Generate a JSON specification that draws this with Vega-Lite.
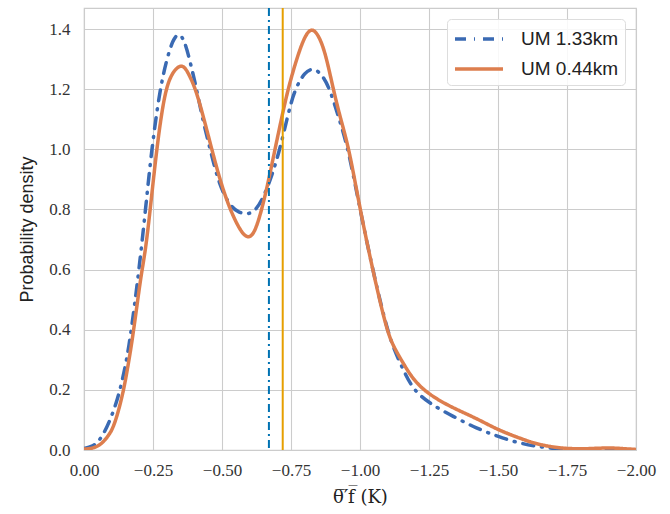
{
  "$schema": "https://vega.github.io/schema/vega-lite/v6.json",
  "width": 552,
  "height": 442,
  "autosize": {"type": "none"},
  "padding": {"left": 84, "top": 8, "right": 34, "bottom": 64},
  "background": "white",
  "config": {
    "view": {"stroke": "#cccccc", "strokeWidth": 1.2},
    "axis": {
      "grid": true, "gridColor": "#cccccc", "gridWidth": 1.1,
      "domain": false, "ticks": false, "labelFlush": false,
      "labelFont": "Liberation Serif", "labelFontSize": 17, "labelColor": "#333333",
      "titleFont": "Liberation Sans", "titleFontSize": 18, "titleFontWeight": "normal", "titleColor": "#222222"
    },
    "legend": {
      "labelFont": "Liberation Sans", "labelFontSize": 19, "labelColor": "#222222"
    }
  },
  "datasets": {
    "curves": [
      {"model": "UM 1.33km", "x": 0.0, "y": 0.005},
      {"model": "UM 1.33km", "x": -0.03, "y": 0.012},
      {"model": "UM 1.33km", "x": -0.05, "y": 0.025},
      {"model": "UM 1.33km", "x": -0.072, "y": 0.055},
      {"model": "UM 1.33km", "x": -0.095, "y": 0.1},
      {"model": "UM 1.33km", "x": -0.121, "y": 0.166},
      {"model": "UM 1.33km", "x": -0.145, "y": 0.255},
      {"model": "UM 1.33km", "x": -0.163, "y": 0.344},
      {"model": "UM 1.33km", "x": -0.181, "y": 0.466},
      {"model": "UM 1.33km", "x": -0.193, "y": 0.554},
      {"model": "UM 1.33km", "x": -0.205, "y": 0.648},
      {"model": "UM 1.33km", "x": -0.223, "y": 0.8},
      {"model": "UM 1.33km", "x": -0.245, "y": 1.0},
      {"model": "UM 1.33km", "x": -0.275, "y": 1.2},
      {"model": "UM 1.33km", "x": -0.3, "y": 1.3},
      {"model": "UM 1.33km", "x": -0.322, "y": 1.365},
      {"model": "UM 1.33km", "x": -0.344, "y": 1.39},
      {"model": "UM 1.33km", "x": -0.365, "y": 1.36},
      {"model": "UM 1.33km", "x": -0.385, "y": 1.29},
      {"model": "UM 1.33km", "x": -0.408, "y": 1.2},
      {"model": "UM 1.33km", "x": -0.43, "y": 1.1},
      {"model": "UM 1.33km", "x": -0.457, "y": 1.0},
      {"model": "UM 1.33km", "x": -0.49, "y": 0.88},
      {"model": "UM 1.33km", "x": -0.53, "y": 0.81},
      {"model": "UM 1.33km", "x": -0.56, "y": 0.79},
      {"model": "UM 1.33km", "x": -0.595, "y": 0.782},
      {"model": "UM 1.33km", "x": -0.625, "y": 0.8},
      {"model": "UM 1.33km", "x": -0.65, "y": 0.84},
      {"model": "UM 1.33km", "x": -0.68, "y": 0.91},
      {"model": "UM 1.33km", "x": -0.71, "y": 1.0},
      {"model": "UM 1.33km", "x": -0.74, "y": 1.12},
      {"model": "UM 1.33km", "x": -0.764, "y": 1.2},
      {"model": "UM 1.33km", "x": -0.8, "y": 1.258},
      {"model": "UM 1.33km", "x": -0.834, "y": 1.272},
      {"model": "UM 1.33km", "x": -0.865, "y": 1.245},
      {"model": "UM 1.33km", "x": -0.891, "y": 1.2},
      {"model": "UM 1.33km", "x": -0.925, "y": 1.1},
      {"model": "UM 1.33km", "x": -0.958, "y": 1.0},
      {"model": "UM 1.33km", "x": -1.0, "y": 0.8},
      {"model": "UM 1.33km", "x": -1.046, "y": 0.6},
      {"model": "UM 1.33km", "x": -1.095, "y": 0.41},
      {"model": "UM 1.33km", "x": -1.125, "y": 0.33},
      {"model": "UM 1.33km", "x": -1.157, "y": 0.266},
      {"model": "UM 1.33km", "x": -1.193, "y": 0.2},
      {"model": "UM 1.33km", "x": -1.251, "y": 0.155},
      {"model": "UM 1.33km", "x": -1.338, "y": 0.111},
      {"model": "UM 1.33km", "x": -1.423, "y": 0.072},
      {"model": "UM 1.33km", "x": -1.501, "y": 0.044},
      {"model": "UM 1.33km", "x": -1.58, "y": 0.022},
      {"model": "UM 1.33km", "x": -1.65, "y": 0.01},
      {"model": "UM 1.33km", "x": -1.72, "y": 0.004},
      {"model": "UM 1.33km", "x": -1.8, "y": 0.002},
      {"model": "UM 1.33km", "x": -2.0, "y": 0.001},
      {"model": "UM 0.44km", "x": 0.0, "y": 0.003},
      {"model": "UM 0.44km", "x": -0.024, "y": 0.004},
      {"model": "UM 0.44km", "x": -0.05, "y": 0.012},
      {"model": "UM 0.44km", "x": -0.072, "y": 0.028},
      {"model": "UM 0.44km", "x": -0.09, "y": 0.05},
      {"model": "UM 0.44km", "x": -0.109, "y": 0.078},
      {"model": "UM 0.44km", "x": -0.139, "y": 0.177},
      {"model": "UM 0.44km", "x": -0.157, "y": 0.266},
      {"model": "UM 0.44km", "x": -0.175, "y": 0.366},
      {"model": "UM 0.44km", "x": -0.193, "y": 0.488},
      {"model": "UM 0.44km", "x": -0.208, "y": 0.588},
      {"model": "UM 0.44km", "x": -0.223, "y": 0.665},
      {"model": "UM 0.44km", "x": -0.24, "y": 0.8},
      {"model": "UM 0.44km", "x": -0.263, "y": 1.0},
      {"model": "UM 0.44km", "x": -0.293, "y": 1.2},
      {"model": "UM 0.44km", "x": -0.325, "y": 1.265},
      {"model": "UM 0.44km", "x": -0.358, "y": 1.285},
      {"model": "UM 0.44km", "x": -0.38, "y": 1.25},
      {"model": "UM 0.44km", "x": -0.405, "y": 1.2},
      {"model": "UM 0.44km", "x": -0.435, "y": 1.1},
      {"model": "UM 0.44km", "x": -0.463, "y": 1.0},
      {"model": "UM 0.44km", "x": -0.495, "y": 0.89},
      {"model": "UM 0.44km", "x": -0.529, "y": 0.8},
      {"model": "UM 0.44km", "x": -0.565, "y": 0.73},
      {"model": "UM 0.44km", "x": -0.595, "y": 0.7},
      {"model": "UM 0.44km", "x": -0.62, "y": 0.725},
      {"model": "UM 0.44km", "x": -0.644, "y": 0.8},
      {"model": "UM 0.44km", "x": -0.665, "y": 0.88},
      {"model": "UM 0.44km", "x": -0.692, "y": 1.0},
      {"model": "UM 0.44km", "x": -0.715, "y": 1.1},
      {"model": "UM 0.44km", "x": -0.739, "y": 1.2},
      {"model": "UM 0.44km", "x": -0.77, "y": 1.3},
      {"model": "UM 0.44km", "x": -0.8, "y": 1.378},
      {"model": "UM 0.44km", "x": -0.825, "y": 1.405},
      {"model": "UM 0.44km", "x": -0.85, "y": 1.38},
      {"model": "UM 0.44km", "x": -0.875, "y": 1.32},
      {"model": "UM 0.44km", "x": -0.903, "y": 1.2},
      {"model": "UM 0.44km", "x": -0.93, "y": 1.1},
      {"model": "UM 0.44km", "x": -0.961, "y": 1.0},
      {"model": "UM 0.44km", "x": -1.0, "y": 0.8},
      {"model": "UM 0.44km", "x": -1.054, "y": 0.565},
      {"model": "UM 0.44km", "x": -1.097, "y": 0.399},
      {"model": "UM 0.44km", "x": -1.121, "y": 0.344},
      {"model": "UM 0.44km", "x": -1.157, "y": 0.288},
      {"model": "UM 0.44km", "x": -1.193, "y": 0.233},
      {"model": "UM 0.44km", "x": -1.251, "y": 0.183},
      {"model": "UM 0.44km", "x": -1.338, "y": 0.139},
      {"model": "UM 0.44km", "x": -1.423, "y": 0.105},
      {"model": "UM 0.44km", "x": -1.501, "y": 0.066},
      {"model": "UM 0.44km", "x": -1.58, "y": 0.039},
      {"model": "UM 0.44km", "x": -1.63, "y": 0.022},
      {"model": "UM 0.44km", "x": -1.7, "y": 0.009},
      {"model": "UM 0.44km", "x": -1.76, "y": 0.004},
      {"model": "UM 0.44km", "x": -1.83, "y": 0.004},
      {"model": "UM 0.44km", "x": -1.9, "y": 0.008},
      {"model": "UM 0.44km", "x": -1.96, "y": 0.004},
      {"model": "UM 0.44km", "x": -2.0, "y": 0.002}
    ]
  },
  "layer": [
    {
      "data": {"name": "curves"},
      "mark": {"type": "line", "strokeWidth": 3.5, "interpolate": "basis", "strokeCap": "round", "clip": true},
      "encoding": {
        "x": {
          "field": "x", "type": "quantitative",
          "scale": {"domain": [0, -2], "nice": false, "zero": false},
          "axis": {"values": [0, -0.25, -0.5, -0.75, -1.0, -1.25, -1.5, -1.75, -2.0], "format": ".2f", "labelPadding": 12, "titlePadding": 10, "title": "θ̅′̅f̅ (K)", "titleFont": "DejaVu Serif", "titleFontSize": 18},
          "sort": null
        },
        "y": {
          "field": "y", "type": "quantitative",
          "scale": {"domain": [0, 1.47], "nice": false},
          "axis": {"values": [0, 0.2, 0.4, 0.6, 0.8, 1.0, 1.2, 1.4], "format": ".1f", "labelPadding": 14, "titlePadding": 12, "title": "Probability density"}
        },
        "color": {
          "field": "model", "type": "nominal",
          "scale": {"domain": ["UM 1.33km", "UM 0.44km"], "range": ["#3a6ab3", "#dd7e4e"]},
          "legend": {
            "title": null, "orient": "top-right", "offset": 11,
            "symbolType": "M-1,0H3", "symbolSize": 576, "symbolStrokeWidth": 3.5,
            "labelOffset": 40, "rowPadding": 6, "padding": 6,
            "strokeColor": "#dddddd", "fillColor": "rgba(255,255,255,0.85)", "cornerRadius": 4
          }
        },
        "strokeDash": {
          "field": "model", "type": "nominal",
          "scale": {"domain": ["UM 1.33km", "UM 0.44km"], "range": [[11, 8, 1, 8], [1, 0]]},
          "legend": {
            "title": null, "orient": "top-right", "offset": 11,
            "symbolType": "M-1,0H3", "symbolSize": 576, "symbolStrokeWidth": 3.5,
            "labelOffset": 40, "rowPadding": 6, "padding": 6,
            "strokeColor": "#dddddd", "fillColor": "rgba(255,255,255,0.85)", "cornerRadius": 4
          }
        }
      }
    },
    {
      "data": {"values": [{"v": -0.67}]},
      "mark": {"type": "rule", "color": "#0072b2", "strokeWidth": 2, "strokeDash": [8, 4, 2, 4]},
      "encoding": {"x": {"field": "v", "type": "quantitative"}}
    },
    {
      "data": {"values": [{"v": -0.72}]},
      "mark": {"type": "rule", "color": "#e69f00", "strokeWidth": 2},
      "encoding": {"x": {"field": "v", "type": "quantitative"}}
    }
  ]
}
